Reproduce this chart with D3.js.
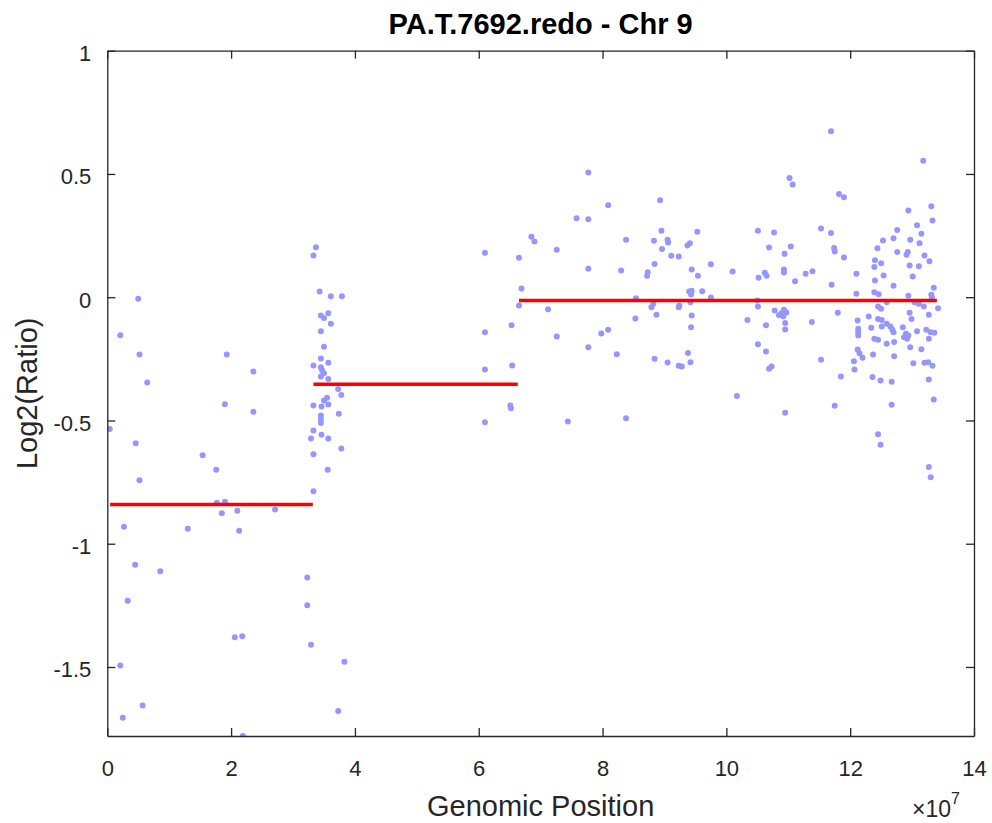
<!DOCTYPE html>
<html>
<head>
<meta charset="utf-8">
<script src="https://cdn.jsdelivr.net/npm/d3@7"></script>
<style>
  body { margin: 0; background: #fff; }
  svg { display: block; font-family: "Liberation Sans", Arial, Helvetica, sans-serif; }
</style>
</head>
<body>
<svg id="chart" width="992" height="823"></svg>
<script>
// genomic position in units of 1e7, log2 ratio
const probes = [
  [0.04,-0.535],[0.21,-0.154],[0.21,-1.494],[0.25,-1.706],[0.27,-0.931],[0.33,-1.231],[0.45,-1.085],
  [0.46,-0.592],[0.50,-0.006],[0.52,-0.232],[0.52,-0.743],[0.57,-1.656],[0.645,-0.346],[0.855,-1.112],
  [1.30,-0.939],[1.54,-0.641],[1.76,-0.700],[1.77,-0.834],[1.85,-0.876],[1.90,-0.830],[1.90,-0.434],
  [1.93,-0.232],[2.06,-1.379],[2.10,-0.866],[2.13,-0.947],[2.18,-1.375],[2.19,-1.78],[2.36,-0.301],
  [2.36,-0.465],[2.71,-0.861],[3.23,-1.137],[3.23,-1.250],[3.29,-1.410],
  [3.33,0.169],[3.37,0.203],[3.43,0.023],[3.61,0.004],[3.79,0.004],[3.57,-0.065],[3.45,-0.074],
  [3.50,-0.084],[3.61,-0.108],[3.45,-0.138],[3.50,-0.201],[3.45,-0.249],[3.57,-0.266],[3.33,-0.277],
  [3.45,-0.284],[3.47,-0.297],[3.50,-0.308],[3.45,-0.322],[3.57,-0.332],[3.73,-0.372],[3.78,-0.397],
  [3.55,-0.408],[3.50,-0.419],[3.33,-0.439],[3.46,-0.443],[3.57,-0.435],[3.74,-0.473],[3.45,-0.480],
  [3.45,-0.496],[3.45,-0.510],[3.33,-0.541],[3.29,-0.573],[3.46,-0.558],[3.57,-0.573],[3.78,-0.614],
  [3.33,-0.637],[3.56,-0.700],[3.33,-0.787],[3.83,-1.479],[3.73,-1.679],
  [6.10,0.180],[6.10,-0.142],[6.10,-0.293],[6.10,-0.507],[6.53,-0.114],[6.54,-0.277],[6.51,-0.439],
  [6.52,-0.450],
  [6.65,0.160],[6.69,0.035],[6.65,-0.034],[6.85,0.245],[6.90,0.226],[7.12,-0.049],[7.26,0.193],
  [7.26,-0.159],[7.44,-0.504],[7.58,0.320],[7.77,0.506],[7.77,0.316],[7.77,0.115],[7.77,-0.203],
  [7.98,-0.147],[8.09,0.373],[8.09,-0.132],[8.23,-0.231],[8.30,0.108],[8.38,0.233],[8.38,-0.491],
  [8.53,-0.086],[8.54,-0.004],[8.72,0.087],[8.73,0.101],[8.79,-0.041],[8.82,-0.027],[8.83,0.229],
  [8.84,0.135],[8.84,-0.250],[8.87,-0.071],[8.93,0.393],[8.95,0.270],[8.96,0.196],[9.05,0.233],
  [9.06,0.222],[9.05,-0.265],[9.11,0.168],[9.23,0.165],[9.23,-0.041],[9.24,-0.034],[9.23,-0.278],
  [9.28,-0.281],[9.37,0.210],[9.41,0.219],[9.38,-0.226],[9.40,0.023],[9.42,-0.020],[9.42,-0.264],
  [9.43,0.011],[9.43,-0.122],[9.44,0.026],[9.44,0.112],[9.44,-0.074],[9.53,0.266],[9.54,0.087],
  [9.61,0.024],[9.75,0.134],[9.75,-0.001],[10.10,0.104],[10.17,-0.401],[10.34,-0.092],[10.50,-0.013],
  [10.51,0.270],[10.51,-0.038],[10.51,-0.191],[10.52,0.079],[10.62,0.099],[10.64,-0.114],[10.64,-0.220],
  [10.65,0.087],[10.69,0.202],[10.69,-0.290],[10.73,-0.281],[10.77,0.262],[10.78,-0.054],[10.85,-0.073],
  [10.89,-0.065],[10.92,-0.077],[10.93,-0.051],[10.93,0.112],[10.93,0.100],[10.94,0.176],[10.95,-0.105],
  [10.95,-0.131],[10.95,-0.469],[10.97,-0.062],[11.02,0.484],[11.04,0.206],[11.07,0.457],[11.11,0.065],
  [11.28,0.095],[11.38,-0.101],[11.39,0.105],[11.53,0.279],[11.53,-0.254],[11.69,0.673],[11.69,0.260],
  [11.70,0.051],[11.74,0.200],[11.75,0.185],[11.75,-0.440],[11.80,-0.063],[11.82,0.419],[11.85,-0.322],
  [11.90,0.406],[11.90,0.161],[12.06,-0.260],[12.07,-0.293],[12.10,0.095],[12.10,0.014],[12.12,-0.094],
  [12.12,-0.212],[12.13,-0.128],[12.13,-0.142],[12.13,-0.155],[12.15,-0.227],[12.20,-0.246],[12.30,-0.078],
  [12.34,-0.124],[12.36,-0.324],[12.37,-0.232],[12.39,0.123],[12.39,0.020],[12.39,-0.169],[12.40,0.150],
  [12.40,0.068],[12.44,0.199],[12.45,-0.038],[12.45,-0.088],[12.45,-0.173],[12.45,-0.556],[12.46,0.012],
  [12.49,-0.338],[12.49,-0.599],[12.50,0.138],[12.50,-0.047],[12.51,-0.092],[12.51,-0.119],[12.53,0.230],
  [12.54,0.088],[12.59,-0.020],[12.59,-0.108],[12.59,-0.189],[12.65,-0.119],[12.67,-0.343],[12.67,-0.436],
  [12.68,-0.132],[12.70,0.239],[12.70,0.046],[12.70,-0.142],[12.71,-0.182],[12.71,-0.240],[12.76,0.273],
  [12.76,0.183],[12.85,-0.122],[12.87,-0.162],[12.90,-0.148],[12.91,0.172],[12.92,-0.169],[12.93,0.183],
  [12.94,0.352],[12.94,0.006],[12.94,-0.155],[12.96,0.129],[12.96,-0.063],[12.97,0.233],[12.97,-0.203],
  [12.99,-0.088],[13.01,0.084],[13.02,-0.268],[13.04,-0.020],[13.08,0.292],[13.08,-0.138],[13.11,0.126],
  [13.11,-0.027],[13.12,0.219],[13.15,0.257],[13.15,-0.211],[13.18,0.554],[13.19,-0.038],[13.20,0.169],
  [13.20,-0.266],[13.23,-0.132],[13.26,-0.264],[13.27,-0.071],[13.27,-0.169],[13.27,-0.334],[13.27,-0.689],
  [13.28,0.146],[13.30,-0.142],[13.30,-0.730],[13.31,0.369],[13.31,0.010],[13.32,0.000],[13.33,0.311],
  [13.33,-0.278],[13.35,0.038],[13.35,-0.415],[13.36,-0.144],[13.42,-0.045]
];

// segment start, end (1e7), mean log2 ratio
const segments = [
  [0.045, 3.32, -0.841],
  [3.33, 6.63, -0.353],
  [6.65, 13.40, -0.013]
];

const xTicks = [0, 2, 4, 6, 8, 10, 12, 14];
const yTicks = [-1.5, -1, -0.5, 0, 0.5, 1];

const svg = d3.select('#chart');
const margin = { top: 50.7, right: 18, bottom: 87, left: 107.3 };
const width = 992 - margin.left - margin.right;
const height = 823 - margin.top - margin.bottom;
const axisColor = '#262626';

const x = d3.scaleLinear().domain([0, 14]).range([0, width]);
const y = d3.scaleLinear().domain([-1.78, 1]).range([height, 0]);

const g = svg.append('g').attr('transform', `translate(${margin.left},${margin.top})`);

g.append('clipPath').attr('id', 'plotclip')
  .append('rect').attr('width', width).attr('height', height);

const plot = g.append('g').attr('clip-path', 'url(#plotclip)');

plot.selectAll('circle')
  .data(probes)
  .enter()
  .append('circle')
  .attr('cx', (d) => x(d[0]))
  .attr('cy', (d) => y(d[1]))
  .attr('r', 3)
  .attr('fill', 'rgb(150,150,255)');

plot.selectAll('line.seg')
  .data(segments)
  .enter()
  .append('line')
  .attr('class', 'seg')
  .attr('x1', (d) => x(d[0]))
  .attr('x2', (d) => x(d[1]))
  .attr('y1', (d) => y(d[2]))
  .attr('y2', (d) => y(d[2]))
  .attr('stroke', '#ff0000')
  .attr('stroke-width', 3.5);

// axes, ticks pointing inward like the original box
function styleAxis(sel) {
  sel.select('.domain').attr('stroke', axisColor).attr('stroke-width', 1.3);
  sel.selectAll('.tick line').attr('stroke', axisColor).attr('stroke-width', 1.3);
  sel.selectAll('.tick text').attr('fill', axisColor).style('font-size', '22px');
}

const xAxis = g.append('g')
  .attr('transform', `translate(0,${height})`)
  .call(d3.axisBottom(x).tickValues(xTicks).tickSizeInner(-8).tickSizeOuter(0).tickPadding(24));
styleAxis(xAxis);

g.append('g')
  .call(d3.axisTop(x).tickValues(xTicks).tickSizeInner(-8).tickSizeOuter(0).tickFormat(''))
  .call(styleAxis);

const yAxis = g.append('g')
  .call(d3.axisLeft(y).tickValues(yTicks).tickSizeInner(-8).tickSizeOuter(0).tickPadding(16)
    .tickFormat((d) => String(d)));
styleAxis(yAxis);
yAxis.selectAll('.tick text').attr('dy', '0.45em');

g.append('g')
  .attr('transform', `translate(${width},0)`)
  .call(d3.axisRight(y).tickValues(yTicks).tickSizeInner(-8).tickSizeOuter(0).tickFormat(''))
  .call(styleAxis);

// title and labels
svg.append('text')
  .attr('x', margin.left + width / 2)
  .attr('y', 34)
  .attr('text-anchor', 'middle')
  .attr('font-weight', 'bold')
  .attr('font-size', 29)
  .attr('fill', '#000')
  .text('PA.T.7692.redo - Chr 9');

svg.append('text')
  .attr('x', margin.left + width / 2)
  .attr('y', 816)
  .attr('text-anchor', 'middle')
  .attr('font-size', 29)
  .attr('fill', axisColor)
  .text('Genomic Position');

svg.append('text')
  .attr('transform', `translate(37,${margin.top + height / 2}) rotate(-90)`)
  .attr('text-anchor', 'middle')
  .attr('font-size', 29)
  .attr('fill', axisColor)
  .text('Log2(Ratio)');

const expo = svg.append('text')
  .attr('x', 912)
  .attr('y', 817)
  .attr('font-size', 23)
  .attr('fill', axisColor);
expo.append('tspan').text('\u00d710');
expo.append('tspan').attr('font-size', 16).attr('dy', -13).text('7');
</script>
</body>
</html>
